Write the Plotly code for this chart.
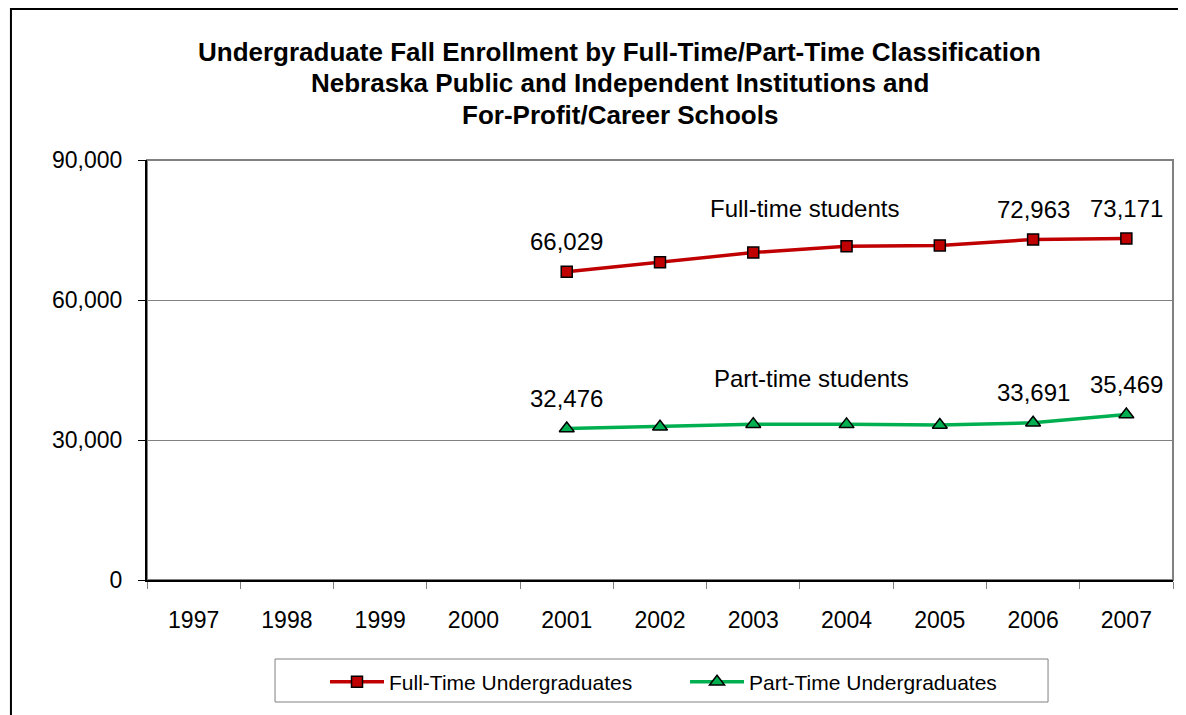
import plotly.graph_objects as go

years = ["1997", "1998", "1999", "2000", "2001", "2002", "2003", "2004", "2005", "2006", "2007"]
# no data before 2001
full_time = [None, None, None, None, 66029, 68080, 70160, 71500, 71700, 72963, 73171]
part_time = [None, None, None, None, 32476, 32850, 33400, 33350, 33200, 33691, 35469]

# which points carry a value label
ft_labelled = ["2001", "2006", "2007"]
pt_labelled = ["2001", "2006", "2007"]

title_lines = [
    "Undergraduate Fall Enrollment by Full-Time/Part-Time Classification",
    "Nebraska Public and Independent Institutions and",
    "For-Profit/Career Schools",
]

FONT = "Arial, 'Liberation Sans', sans-serif"
RED = "#C00000"
GREEN = "#00B050"

fig = go.Figure()

fig.add_trace(go.Scatter(
    x=years, y=full_time, name="Full-Time Undergraduates",
    mode="lines+markers",
    line=dict(color=RED, width=3.5),
    marker=dict(symbol="square", size=11, color=RED, line=dict(color="black", width=1.5)),
    legend="legend",
))
fig.add_trace(go.Scatter(
    x=years, y=part_time, name="Part-Time Undergraduates",
    mode="lines+markers",
    line=dict(color=GREEN, width=3.5),
    marker=dict(symbol="triangle-up", size=13, color=GREEN, line=dict(color="black", width=1.5)),
    legend="legend2",
))

annotations = []
for series, labelled in ((full_time, ft_labelled), (part_time, pt_labelled)):
    for i, (yr, val) in enumerate(zip(years, series)):
        if yr in labelled:
            annotations.append(dict(x=i, y=val, xref="x", yref="y", text=f"{val:,}",
                                    showarrow=False, yshift=30,
                                    font=dict(size=24, color="black", family=FONT)))

annotations.append(dict(xref="paper", yref="paper", x=0.6413, y=0.8857, text="Full-time students",
                        xanchor="center", yanchor="middle", showarrow=False,
                        font=dict(size=24, color="black", family=FONT)))
annotations.append(dict(xref="paper", yref="paper", x=0.648, y=0.4793, text="Part-time students",
                        xanchor="center", yanchor="middle", showarrow=False,
                        font=dict(size=24, color="black", family=FONT)))

# three title lines, spaced like the original
for line, ypos in zip(title_lines, [1.2571, 1.1833, 1.1071]):
    annotations.append(dict(xref="paper", yref="paper", x=0.461, y=ypos, text=f"<b>{line}</b>",
                            xanchor="center", yanchor="middle", showarrow=False,
                            font=dict(size=26, color="black", family=FONT)))

shapes = [
    # grey frame round the plot area
    dict(type="rect", xref="paper", yref="paper", x0=0, x1=1, y0=0, y1=1,
         line=dict(color="#808080", width=2), layer="below"),
    # legend box
    dict(type="rect", xref="paper", yref="paper", x0=0.1248, x1=0.8782, y0=-0.2905, y1=-0.1881,
         line=dict(color="#808080", width=1)),
    # outer chart border (runs off the right and bottom edge)
    dict(type="rect", xref="paper", yref="paper", x0=-0.1326, x1=1.05, y0=-0.4, y1=1.3595,
         line=dict(color="black", width=2)),
]

# the page adds an 8px body margin, so the figure is 8px smaller each way
fig.update_layout(
    width=1178, height=707,
    margin=dict(l=139, r=13, t=152, b=135),
    paper_bgcolor="white", plot_bgcolor="white",
    font=dict(family=FONT, color="black"),
    showlegend=True,
    legend=dict(orientation="h", x=0.1735, y=-0.2429, xanchor="left", yanchor="middle",
                itemwidth=54, font=dict(size=21, family=FONT),
                bgcolor="rgba(0,0,0,0)", borderwidth=0, visible=True),
    legend2=dict(orientation="h", x=0.5244, y=-0.2429, xanchor="left", yanchor="middle",
                 itemwidth=54, font=dict(size=21, family=FONT),
                 bgcolor="rgba(0,0,0,0)", borderwidth=0, visible=True),
    annotations=annotations,
    shapes=shapes,
)

fig.update_xaxes(
    type="category", range=[-0.5, 10.5],
    showline=True, linecolor="black", linewidth=2,
    ticks="outside", tickson="boundaries", ticklen=7, tickcolor="#808080",
    ticklabelstandoff=18,
    tickfont=dict(size=23, family=FONT, color="black"),
    showgrid=False,
)
fig.update_yaxes(
    range=[0, 90000], tickvals=[0, 30000, 60000, 90000], tickformat=",",
    showline=True, linecolor="black", linewidth=2,
    ticks="outside", ticklen=7, tickcolor="black",
    ticklabelstandoff=11,
    tickfont=dict(size=23, family=FONT, color="black"),
    showgrid=True, gridcolor="#808080", gridwidth=1,
    zeroline=False,
)

fig.write_html("out.html")
